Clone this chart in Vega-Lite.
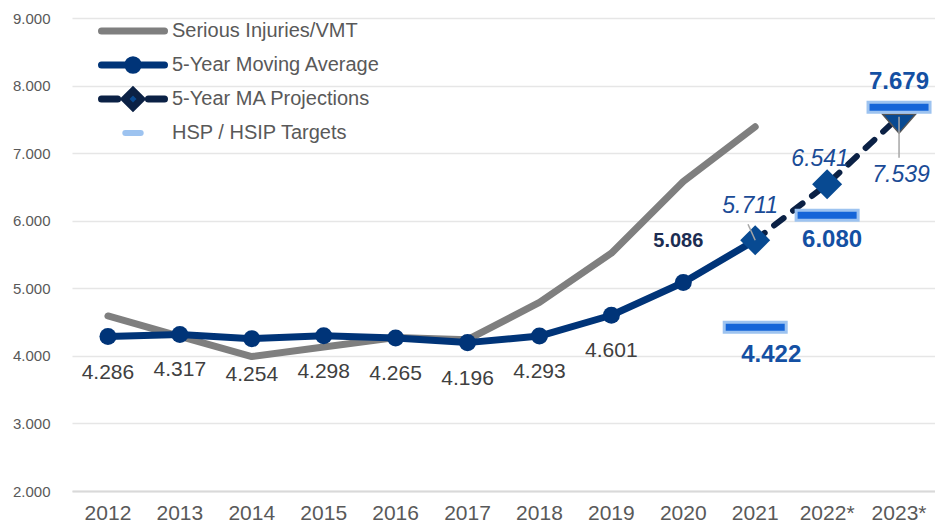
{
  "$schema": "https://vega.github.io/schema/vega-lite/v6.json",
  "width": 863,
  "height": 473,
  "autosize": "none",
  "padding": {"left": 72, "top": 18, "right": 0, "bottom": 38},
  "background": "white",
  "config": {"font": "Liberation Sans", "view": {"stroke": null}},
  "datasets": {
    "sir": [
      {"year": "2012", "v": 4.59}, {"year": "2013", "v": 4.29}, {"year": "2014", "v": 3.99},
      {"year": "2015", "v": 4.13}, {"year": "2016", "v": 4.27}, {"year": "2017", "v": 4.24},
      {"year": "2018", "v": 4.79}, {"year": "2019", "v": 5.52}, {"year": "2020", "v": 6.58},
      {"year": "2021", "v": 7.39}
    ],
    "ma": [
      {"year": "2012", "v": 4.286}, {"year": "2013", "v": 4.317}, {"year": "2014", "v": 4.254},
      {"year": "2015", "v": 4.298}, {"year": "2016", "v": 4.265}, {"year": "2017", "v": 4.196},
      {"year": "2018", "v": 4.293}, {"year": "2019", "v": 4.601}, {"year": "2020", "v": 5.086},
      {"year": "2021", "v": 5.711}
    ],
    "proj": [
      {"year": "2021", "v": 5.711}, {"year": "2022*", "v": 6.541}, {"year": "2023*", "v": 7.539}
    ],
    "tgt": [
      {"year": "2021", "v": 4.422}, {"year": "2022*", "v": 6.080}, {"year": "2023*", "v": 7.679}
    ]
  },
  "encoding": {
    "x": {
      "field": "year", "type": "ordinal",
      "scale": {"type": "band", "domain": ["2012","2013","2014","2015","2016","2017","2018","2019","2020","2021","2022*","2023*"], "paddingInner": 0, "paddingOuter": 0},
      "axis": {"title": null, "labelFontSize": 21, "labelColor": "#595959", "labelAngle": 0, "ticks": false, "domainColor": "#d9d9d9", "domainWidth": 2, "labelPadding": 11, "grid": false}
    },
    "y": {
      "field": "v", "type": "quantitative",
      "scale": {"domain": [2, 9], "nice": false, "zero": false},
      "axis": {"title": null, "values": [2,3,4,5,6,7,8,9], "format": ".3f", "labelFontSize": 15, "labelColor": "#595959", "domain": false, "ticks": false, "gridColor": "#e6e6e6", "gridWidth": 1.5, "labelPadding": 22}
    }
  },
  "layer": [
    {
      "data": {"name": "sir"},
      "mark": {"type": "line", "strokeWidth": 7, "strokeCap": "round", "strokeJoin": "round"},
      "encoding": {
        "color": {
          "datum": "Serious Injuries/VMT",
          "scale": {"domain": ["Serious Injuries/VMT", "5-Year Moving Average", "5-Year MA Projections", "HSP / HSIP Targets"], "range": ["#7f7f7f", "#003478", "#0b2145", "#9dc3f0"]},
          "legend": {
            "title": null, "orient": "none", "legendX": 51, "legendY": 3, "padding": 0,
            "labelFontSize": 20, "labelColor": "#595959", "labelFont": "Liberation Sans", "labelLimit": 400,
            "symbolSize": 196, "symbolType": "M-4.5,0H4.5", "labelOffset": 29, "rowPadding": -16,
            "symbolStrokeWidth": 7,
            "encode": {
              "symbols": {
                "update": {
                  "shape": {"signal": "datum.value === '5-Year Moving Average' ? 'M0,-1.4M0,1.4M-4.5,0H4.5M-0.75,0A0.75,0.75 0 1,0 0.75,0A0.75,0.75 0 1,0 -0.75,0Z' : datum.value === '5-Year MA Projections' ? 'M0,-1.4M0,1.4M-4.5,0H-2.2M2.2,0H4.5M0,-1.2L1.2,0L0,1.2L-1.2,0Z' : datum.value === 'HSP / HSIP Targets' ? 'M0,-1.4M0,1.4M-1.1,0H1.1' : 'M0,-1.4M0,1.4M-4.5,0H4.5'"},
                  "fill": {"signal": "datum.value === '5-Year Moving Average' ? '#003478' : datum.value === '5-Year MA Projections' ? '#0a4a92' : 'transparent'"},
                  "strokeWidth": {"signal": "datum.value === 'HSP / HSIP Targets' ? 6 : 7"},
                  "strokeCap": {"value": "round"}
                }
              }
            }
          }
        }
      }
    },
    {
      "data": {"name": "ma"},
      "mark": {"type": "line", "strokeWidth": 7, "strokeCap": "round", "strokeJoin": "round"},
      "encoding": {"color": {"datum": "5-Year Moving Average"}}
    },
    {
      "data": {"name": "proj"},
      "mark": {"type": "line", "strokeWidth": 6, "strokeCap": "round", "strokeDash": [12, 12]},
      "encoding": {"color": {"datum": "5-Year MA Projections"}}
    },
    {
      "data": {"name": "ma"},
      "transform": [{"filter": "datum.year != '2021'"}],
      "mark": {"type": "point", "shape": "circle", "filled": true, "size": 290, "opacity": 1, "color": "#003478"}
    },
    {
      "data": {"name": "proj"},
      "transform": [{"filter": "datum.year != '2023*'"}],
      "mark": {"type": "point", "shape": "diamond", "filled": true, "size": 900, "opacity": 1, "color": "#084a92"}
    },
    {
      "data": {"name": "proj"},
      "transform": [{"filter": "datum.year == '2023*'"}],
      "mark": {"type": "point", "shape": "M-1,-0.15L1,-0.15L0,1Z", "filled": true, "size": 1089, "opacity": 1, "color": "#084a92", "stroke": "#555555", "strokeWidth": 1.5}
    },
    {
      "data": {"name": "proj"},
      "transform": [{"filter": "datum.year == '2023*'"}],
      "mark": {"type": "point", "shape": "M0,0V1", "filled": false, "size": 6724, "opacity": 1, "stroke": "#a6a6a6", "strokeWidth": 1.5}
    },
    {
      "data": {"name": "proj"},
      "transform": [{"filter": "datum.year == '2021'"}],
      "mark": {"type": "point", "shape": "M0,0L-0.45,-1", "filled": false, "size": 1024, "opacity": 1, "stroke": "#a6a6a6", "strokeWidth": 1.5}
    },
    {
      "data": {"name": "tgt"},
      "mark": {"type": "tick", "orient": "horizontal", "size": 62, "thickness": 10, "color": "#1565d8", "stroke": "#9dc3f0", "strokeWidth": 3, "opacity": 1}
    },
    {
      "data": {"name": "ma"},
      "transform": [{"filter": "datum.year != '2020' && datum.year != '2021'"}],
      "mark": {"type": "text", "dy": 36, "fontSize": 21, "color": "#404040", "baseline": "middle"},
      "encoding": {"text": {"field": "v", "format": ".3f"}}
    },
    {
      "data": {"name": "ma"},
      "transform": [{"filter": "datum.year == '2020'"}],
      "mark": {"type": "text", "dx": -5, "dy": -41, "fontSize": 20, "fontWeight": "bold", "color": "#1c2d52", "baseline": "middle"},
      "encoding": {"text": {"field": "v", "format": ".3f"}}
    },
    {
      "data": {"name": "proj"},
      "transform": [{"filter": "datum.year == '2021'"}],
      "mark": {"type": "text", "dx": -5, "dy": -34, "fontSize": 23, "fontStyle": "italic", "color": "#1a4b96", "baseline": "middle"},
      "encoding": {"text": {"field": "v", "format": ".3f"}}
    },
    {
      "data": {"name": "proj"},
      "transform": [{"filter": "datum.year == '2022*'"}],
      "mark": {"type": "text", "dx": -7, "dy": -25, "fontSize": 23, "fontStyle": "italic", "color": "#1a4b96", "baseline": "middle"},
      "encoding": {"text": {"field": "v", "format": ".3f"}}
    },
    {
      "data": {"name": "proj"},
      "transform": [{"filter": "datum.year == '2023*'"}],
      "mark": {"type": "text", "dx": 2, "dy": 58, "fontSize": 23, "fontStyle": "italic", "color": "#1a4b96", "baseline": "middle"},
      "encoding": {"text": {"field": "v", "format": ".3f"}}
    },
    {
      "data": {"name": "tgt"},
      "transform": [{"filter": "datum.year == '2021'"}],
      "mark": {"type": "text", "dx": 16, "dy": 28, "fontSize": 24, "fontWeight": "bold", "color": "#1450a3", "baseline": "middle"},
      "encoding": {"text": {"field": "v", "format": ".3f"}}
    },
    {
      "data": {"name": "tgt"},
      "transform": [{"filter": "datum.year == '2022*'"}],
      "mark": {"type": "text", "dx": 5, "dy": 25, "fontSize": 24, "fontWeight": "bold", "color": "#1450a3", "baseline": "middle"},
      "encoding": {"text": {"field": "v", "format": ".3f"}}
    },
    {
      "data": {"name": "tgt"},
      "transform": [{"filter": "datum.year == '2023*'"}],
      "mark": {"type": "text", "dy": -25, "fontSize": 24, "fontWeight": "bold", "color": "#1450a3", "baseline": "middle"},
      "encoding": {"text": {"field": "v", "format": ".3f"}}
    }
  ]
}
